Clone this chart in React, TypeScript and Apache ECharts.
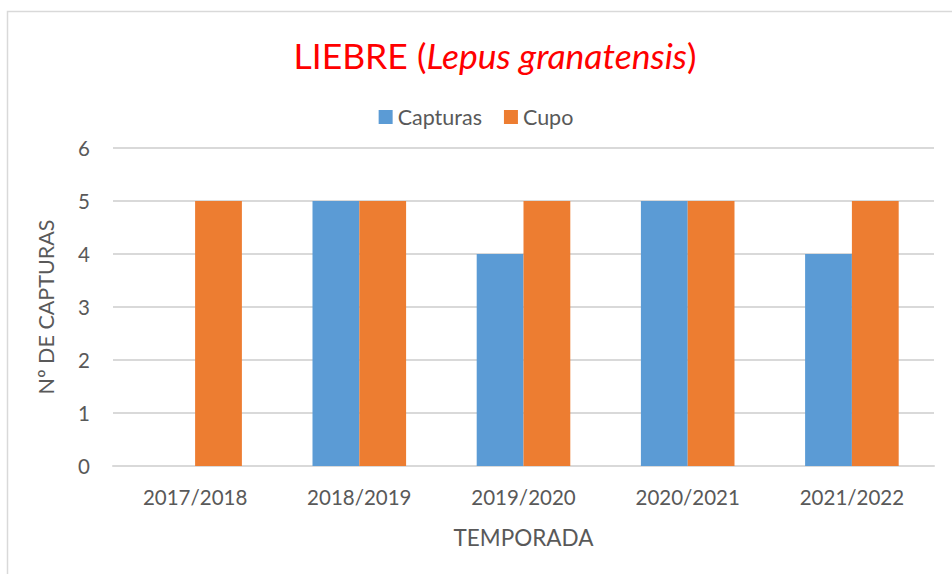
import React, { useEffect, useRef } from "react";
import * as echarts from "echarts";

const categories = ["2017/2018", "2018/2019", "2019/2020", "2020/2021", "2021/2022"];
const capturas = [0, 5, 4, 5, 4];
const cupo = [5, 5, 5, 5, 5];
const seriesNames = ["Capturas", "Cupo"];

const FONT = "Lato, 'Open Sans', sans-serif";

export default function App() {
  const ref = useRef<HTMLDivElement>(null);
  useEffect(() => {
    const chart = echarts.init(ref.current!, null, { renderer: "svg" });
    chart.setOption({
      animation: false,
      backgroundColor: "#ffffff",
      textStyle: { fontFamily: FONT },
      graphic: [
        {
          type: "rect",
          shape: { x: 7.5, y: 11.5, width: 1000, height: 700 },
          style: { fill: "none", stroke: "#D9D9D9", lineWidth: 1.5 },
          silent: true,
        },
      ],
      title: {
        text: "{n|LIEBRE (}{i|Lepus granatensis}{n|)}",
        left: 490,
        textAlign: "center",
        top: 32,
        textStyle: {
          fontWeight: "normal",
          rich: {
            n: { fontSize: 35.5, color: "#FF0000", fontWeight: "normal", fontFamily: FONT },
            i: { fontSize: 35.5, color: "#FF0000", fontWeight: "normal", fontStyle: "italic", fontFamily: FONT },
          },
        },
      },
      legend: {
        data: seriesNames,
        top: 101,
        left: "center",
        itemWidth: 14,
        itemHeight: 14,
        itemGap: 22,
        icon: "rect",
        textStyle: { fontSize: 21.5, color: "#595959", fontFamily: FONT },
      },
      grid: { left: 113, right: 18, top: 148, bottom: 108, containLabel: false },
      xAxis: {
        type: "category",
        data: categories,
        name: "TEMPORADA",
        nameLocation: "middle",
        nameGap: 60,
        nameTextStyle: { fontSize: 22.5, color: "#595959" },
        axisLine: { lineStyle: { color: "#D9D9D9", width: 2 } },
        axisTick: { show: false },
        axisLabel: { fontSize: 20.5, color: "#595959", margin: 20 },
      },
      yAxis: {
        type: "value",
        min: 0,
        max: 6,
        interval: 1,
        name: "Nº DE CAPTURAS",
        nameLocation: "middle",
        nameGap: 56,
        nameTextStyle: { fontSize: 21.5, color: "#595959" },
        axisLine: { show: false },
        axisTick: { show: false },
        axisLabel: { fontSize: 20.5, color: "#595959", margin: 23 },
        splitLine: { lineStyle: { color: "#D9D9D9", width: 2 } },
      },
      series: [
        {
          name: seriesNames[0],
          type: "bar",
          data: capturas,
          itemStyle: { color: "#5B9BD5" },
          barGap: "0%",
          barCategoryGap: "43%",
        },
        {
          name: seriesNames[1],
          type: "bar",
          data: cupo,
          itemStyle: { color: "#ED7D31" },
          barGap: "0%",
          barCategoryGap: "43%",
        },
      ],
    });
    return () => chart.dispose();
  }, []);
  return (
    <div
      ref={ref}
      style={{ position: "fixed", left: 0, top: 0, width: 952, height: 574 }}
    />
  );
}
